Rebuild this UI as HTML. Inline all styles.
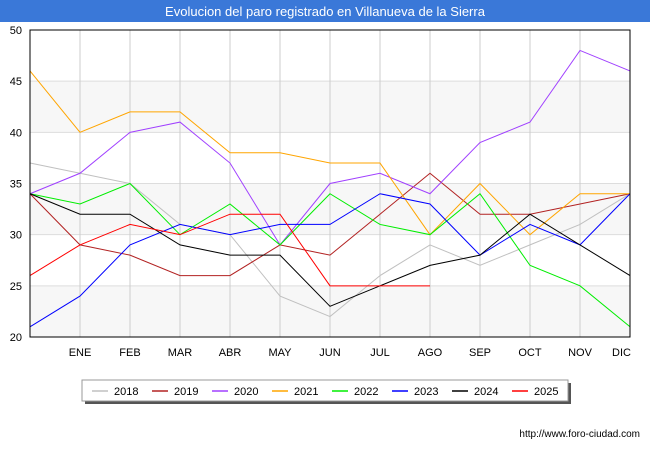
<!DOCTYPE html>
<html><head><meta charset="utf-8"><style>
body{margin:0;background:#fff;font-family:"Liberation Sans",sans-serif;}
</style></head><body>
<svg width="650" height="450" xmlns="http://www.w3.org/2000/svg" font-family="Liberation Sans, sans-serif">
<rect x="0" y="0" width="650" height="22" fill="#3a78d8"/>
<text x="325" y="16" text-anchor="middle" fill="#fff" font-size="13">Evolucion del paro registrado en Villanueva de la Sierra</text>
<g id="bands"></g><g id="grid"></g><g id="series"></g>
<rect x="30" y="30" width="600" height="307" fill="none" stroke="#000"/>
<g id="ylab" font-size="11"></g><g id="xlab" font-size="11"></g>
<rect x="85" y="383" width="486" height="21" fill="#555"/>
<rect x="82" y="380" width="486" height="21" fill="#fff" stroke="#999"/>
<g id="legend" font-size="11"></g>
<text x="640" y="437" text-anchor="end" font-size="10">http://www.foro-ciudad.com</text>
</svg>
<script>
const years=["2018","2019","2020","2021","2022","2023","2024","2025"];
const colors=["#c0c0c0","#b22222","#a040ff","#ffa500","#00ee00","#0000ff","#000000","#ff0000"];
const months=["ENE","FEB","MAR","ABR","MAY","JUN","JUL","AGO","SEP","OCT","NOV","DIC"];
const yTicks=[20,25,30,35,40,45,50];
const s2018=[37,36,35,31,30,24,22,26,29,27,29,31,34];
const s2019=[34,29,28,26,26,29,28,32,36,32,32,33,34];
const s2020=[34,36,40,41,37,29,35,36,34,39,41,48,46];
const s2021=[46,40,42,42,38,38,37,37,30,35,30,34,34];
const s2022=[34,33,35,30,33,29,34,31,30,34,27,25,21];
const s2023=[21,24,29,31,30,31,31,34,33,28,31,29,34];
const s2024=[34,32,32,29,28,28,23,25,27,28,32,29,26];
const s2025=[26,29,31,30,32,32,25,25,25];
const series=[s2018,s2019,s2020,s2021,s2022,s2023,s2024,s2025];
const NS="http://www.w3.org/2000/svg";
const X=i=>30+i*50, Y=v=>337-(v-20)*307/30;
function mk(t,p,a){const e=document.createElementNS(NS,t);for(const k in a)e.setAttribute(k,a[k]);p.appendChild(e);return e;}
const bands=document.getElementById('bands');
[[20,25],[30,35],[40,45]].forEach(b=>{const r=mk('rect',bands,{x:30,y:Y(b[1]),width:600,height:Y(b[0])-Y(b[1]),fill:'#f7f7f7'});

});
const grid=document.getElementById('grid'),yl=document.getElementById('ylab'),xl=document.getElementById('xlab');
yTicks.forEach(v=>{const l=mk('line',grid,{x1:30,x2:630,y1:Y(v),y2:Y(v),stroke:'#ddd'});


const t=mk('text',yl,{x:22,y:Y(v)+4,'text-anchor':'end'});t.textContent=v;

});
months.forEach((m,i)=>{const l=mk('line',grid,{x1:X(i+1),x2:X(i+1),y1:30,y2:337,stroke:'#ccc'});


const t=mk('text',xl,{x:X(i+1),y:356,'text-anchor':i==11?'end':'middle'});t.textContent=m;
if(i==11)t.setAttribute('x',X(12)+1);

});
const sg=document.getElementById('series');
series.forEach((s,k)=>{const p=mk('polyline',sg,{points:s.map((v,i)=>X(i)+','+Y(v)).join(' '),fill:'none',stroke:colors[k],'stroke-width':1});

});
const lg=document.getElementById('legend');
years.forEach((y,k)=>{const x0=92+k*60;
const l=mk('line',lg,{x1:x0,x2:x0+16,y1:391,y2:391,stroke:colors[k],'stroke-width':1.5});


const t=mk('text',lg,{x:x0+22,y:395});t.textContent=y;

});
</script>
</body></html>
